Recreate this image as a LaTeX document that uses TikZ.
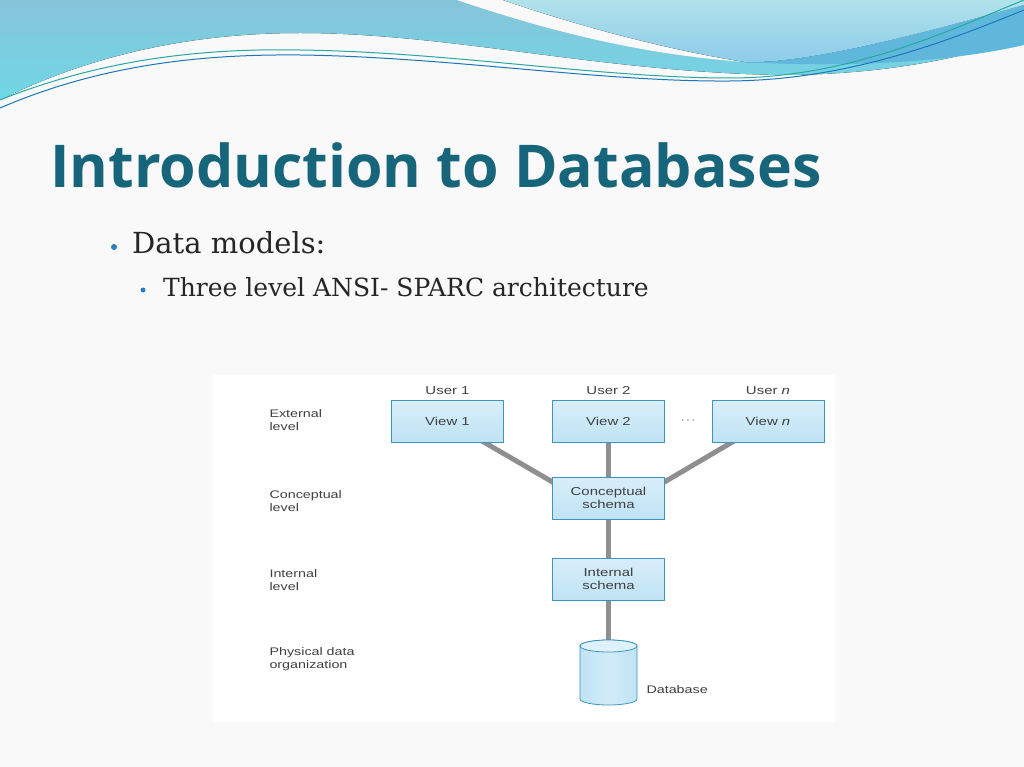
\documentclass[tikz,border=0pt]{standalone}
\usepackage{fontspec}
\setmainfont{DejaVu Serif}
\newfontfamily\titlefont{Open Sans}
\newfontfamily\diafont[FakeStretch=1.3]{Liberation Sans}
\definecolor{slidebg}{HTML}{F9F9F9}
\definecolor{titlec}{HTML}{17657A}
\definecolor{wave1}{HTML}{86C4DA}
\definecolor{wave1b}{HTML}{6FD8E6}
\definecolor{wave2}{HTML}{B0E2EA}
\definecolor{wave2b}{HTML}{8CCBEA}
\definecolor{wave3}{HTML}{5FB8DC}
\definecolor{linec}{HTML}{27A9A0}
\definecolor{boxfill}{HTML}{BFE3F5}
\definecolor{boxdraw}{HTML}{3F93C0}
\definecolor{conn}{HTML}{8F8F8F}
\definecolor{bullc}{HTML}{2A7EC0}
\tikzset{
  vbox/.style={draw=boxdraw, line width=0.8pt, top color=white!40!boxfill, bottom color=boxfill, minimum width=112pt, minimum height=42pt, inner sep=1pt, align=center, font=\diafont\fontsize{11.5}{13}\selectfont, text=black!75},
  lvl/.style={anchor=west, align=left, font=\diafont\fontsize{11}{13}\selectfont, text=black!75},
  ulab/.style={font=\diafont\fontsize{11.5}{13}\selectfont, text=black!75},
  conn/.style={draw=conn, line width=5pt},
}
\begin{document}
\begin{tikzpicture}[x=1pt,y=-1pt]
\useasboundingbox (0,0) rectangle (1024,767);
\fill[slidebg] (0,0) rectangle (1024,767);
% waves
\fill[top color=wave1, bottom color=wave1b] (0,0)--(1024,0)--(1024,38) .. controls (950,62) and (870,75) .. (780,75) .. controls (600,72) and (450,33) .. (300,33) .. controls (180,33) and (80,60) .. (0,100) -- cycle;
\fill[slidebg] (457,0) .. controls (560,35) and (650,55) .. (745,62) -- (1024,20) -- (1024,0) -- cycle;
\fill[top color=wave2, bottom color=wave2b] (503,0) .. controls (590,30) and (680,52) .. (745,62) .. controls (800,64) and (900,40) .. (1024,5) -- (1024,0) -- cycle;
\fill[wave3] (745,62) .. controls (800,64) and (900,40) .. (1024,5) -- (1024,45) .. controls (950,62) and (850,68) .. (745,62) -- cycle;
\draw[linec, line width=1pt] (0,100) .. controls (100,60) and (200,48) .. (300,50) .. controls (450,52) and (600,78) .. (730,78) .. controls (850,78) and (950,30) .. (1024,0);
\draw[linec!70!blue, line width=1pt] (0,108) .. controls (100,65) and (200,54) .. (300,55) .. controls (450,57) and (600,82) .. (730,81) .. controls (850,80) and (950,40) .. (1024,10);
% title
\node[anchor=base west, inner sep=0, font=\titlefont\bfseries\fontsize{59}{64}\selectfont, text=titlec] (title) at (50,188) {Introduction to Databases};
\fill[bullc] (114,247) circle (3pt);
\node[anchor=base west, inner sep=0, font=\fontsize{29}{32}\selectfont, text=black!85] (b1) at (132,253) {Data models:};
\fill[bullc] (143,290) circle (2.5pt);
\node[anchor=base west, inner sep=0, font=\fontsize{25}{28}\selectfont, text=black!85] (b2) at (163,296) {Three level ANSI- SPARC architecture};
% diagram
\fill[white] (213,375) rectangle (835,722);
\coordinate (dbtop) at (608.5,646);
\coordinate (v1c) at (447.5,421);
\coordinate (v2c) at (608.5,421);
\coordinate (vnc) at (768,421);
\coordinate (csc) at (608.5,498);
\coordinate (isc) at (608.5,579);
\coordinate (csl) at (556,484);
\coordinate (csr) at (661,484);
\draw[conn] (v1c) -- (csl);
\draw[conn] (vnc) -- (csr);
\draw[conn] (v2c) -- (csc) -- (isc) -- (dbtop);
\node[vbox] (v1) at (v1c) {View 1};
\node[vbox] (v2) at (v2c) {View 2};
\node[vbox] (vn) at (vnc) {View \textit{n}};
\node[vbox] (cs) at (csc) {Conceptual\\schema};
\node[vbox] (is) at (isc) {Internal\\schema};
% cylinder
\path[draw=boxdraw, line width=0.8pt, left color=boxfill, right color=boxfill, middle color=white!30!boxfill] (580,646) -- (580,699) arc[start angle=180, end angle=0, x radius=28.5, y radius=6] -- (637,646) arc[start angle=0, end angle=-180, x radius=28.5, y radius=6] -- cycle;
\draw[boxdraw, line width=0.8pt, fill=white!50!boxfill] (dbtop) ellipse[x radius=28.5, y radius=6];
\node[lvl] at (643,690) (dbl) {Database};
\node[ulab] (u1) at (447.5,391) {User 1};
\node[ulab] (u2) at (608.5,391) {User 2};
\node[ulab] (un) at (768,391) {User \textit{n}};
\node[ulab] (dots) at (688,421) {$\cdots$};
\node[lvl] (l1) at (266,420) {External\\level};
\node[lvl] (l2) at (266,501) {Conceptual\\level};
\node[lvl] (l3) at (266,580) {Internal\\level};
\node[lvl] (l4) at (266,659) {Physical data\\organization};
\end{tikzpicture}
\end{document}
